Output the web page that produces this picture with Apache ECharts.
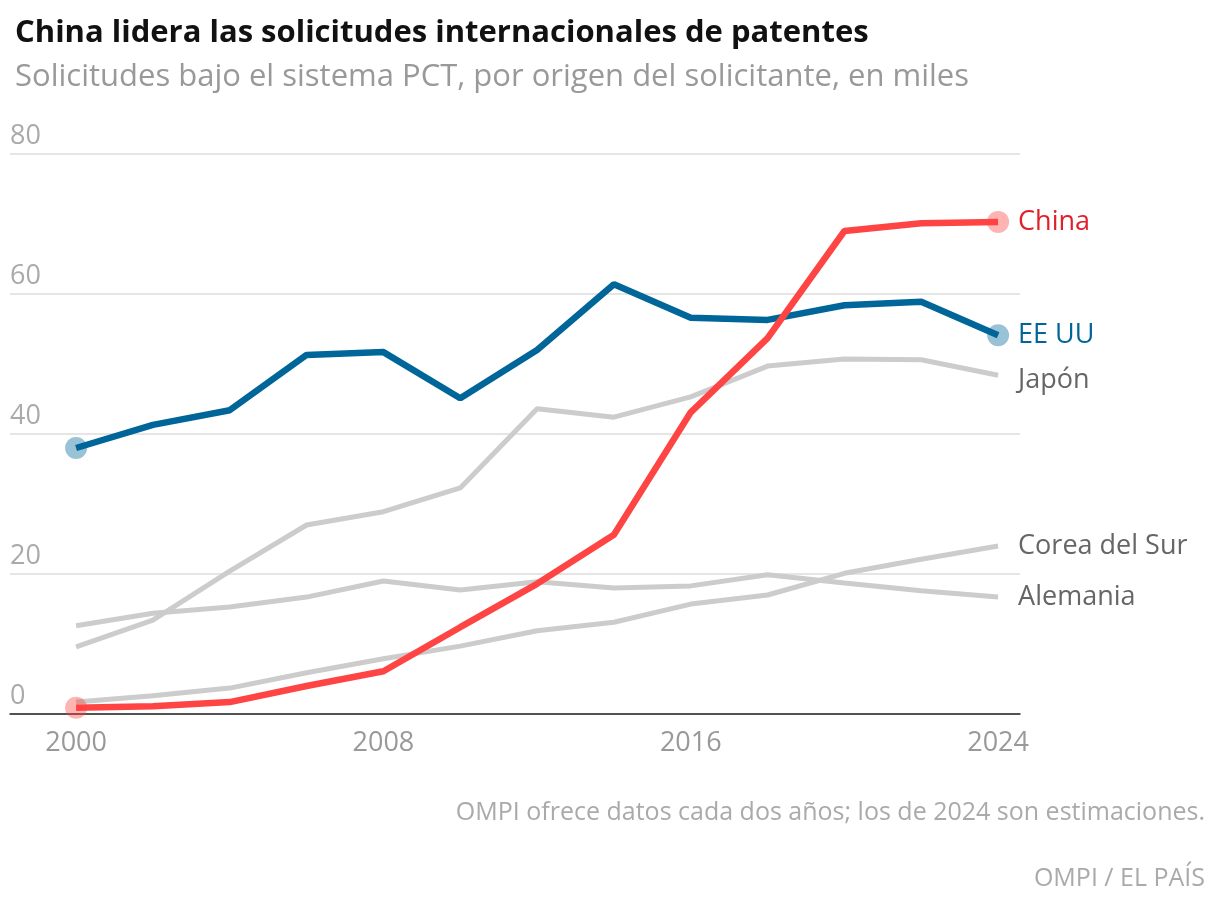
<!DOCTYPE html>
<html>
<head>
<meta charset="utf-8">
<script src="https://cdn.jsdelivr.net/npm/echarts@6/dist/echarts.min.js"></script>
<style>body{margin:0;background:#fff}#c{width:1220px;height:908px}</style>
</head>
<body>
<div id="c"></div>
<script>
// datos cada dos años
var years = [2000, 2002, 2004, 2006, 2008, 2010, 2012, 2014, 2016, 2018, 2020, 2022, 2024];
var china = [0.9, 1.1, 1.7, 4, 6.1, 12.4, 18.6, 25.6, 43.1, 53.7, 69, 70.1, 70.3];
var eeuu = [38, 41.3, 43.4, 51.3, 51.7, 45.1, 52, 61.4, 56.6, 56.3, 58.4, 58.9, 54.1];
var japon = [9.6, 13.4, 20.4, 27, 28.9, 32.3, 43.6, 42.4, 45.3, 49.7, 50.7, 50.6, 48.4];
var alemania = [12.6, 14.4, 15.3, 16.7, 19, 17.7, 18.9, 18, 18.3, 19.9, 18.7, 17.6, 16.7];
var corea = [1.7, 2.6, 3.7, 5.9, 7.9, 9.7, 11.9, 13.1, 15.7, 17, 20.1, 22.1, 24];
var xTicks = [2000, 2008, 2016, 2024];

var font = '"Open Sans", Roboto, sans-serif';
var ec = echarts.init(document.getElementById('c'));

function pts(vals) {
  return vals.map(function(v, i) { return [years[i], v]; });
}

function line(name, vals, color, labelColor, width, z, dots, dotColor, offY) {
  var d = pts(vals);
  var s = [{
    name: name,
    type: 'line',
    data: d,
    z: z,
    symbol: 'none',
    lineStyle: { color: color, width: width },
    endLabel: {
      show: true,
      formatter: name,
      color: labelColor,
      fontSize: 27,
      fontFamily: font,
      distance: 20,
      offset: [0, offY || 0]
    },
    silent: true
  }];
  if (dots) {
    s.push({
      type: 'scatter',
      data: [d[0], d[d.length - 1]],
      symbolSize: 22,
      z: z + 1,
      itemStyle: { color: dotColor },
      silent: true
    });
  }
  return s;
}

var series = [].concat(
  line('Corea del Sur', corea, '#cccccc', '#666', 5, 2, false),
  line('Alemania', alemania, '#cccccc', '#666', 5, 2, false),
  line('Japón', japon, '#cccccc', '#666', 5, 2, false, null, 5),
  line('EE UU', eeuu, '#006699', '#006699', 6.5, 5, true, 'rgba(0,102,153,0.5)'),
  line('China', china, '#ff4444', '#e0202a', 6.5, 6, true, 'rgba(255,68,68,0.5)')
);

ec.setOption({
  animation: false,
  title: [
    { text: 'China lidera las solicitudes internacionales de patentes', left: 10, top: 13,
      textStyle: { fontSize: 31, fontWeight: 'bold', color: '#111', fontFamily: font } },
    { text: 'Solicitudes bajo el sistema PCT, por origen del solicitante, en miles', left: 10, top: 57,
      textStyle: { fontSize: 31, fontWeight: 'normal', color: '#999', fontFamily: font } },
    { text: 'OMPI ofrece datos cada dos años; los de 2024 son estimaciones.', right: 10, top: 795,
      textStyle: { fontSize: 25, fontWeight: 'normal', color: '#aaa', fontFamily: font } },
    { text: 'OMPI / EL PAÍS', right: 10, top: 861,
      textStyle: { fontSize: 25, fontWeight: 'normal', color: '#aaa', fontFamily: font } }
  ],
  grid: { left: 10, right: 200, top: 154, bottom: 194 },
  xAxis: {
    type: 'value',
    min: 1998.28,
    max: 2024.57,
    splitLine: { show: false },
    axisLine: { show: true, lineStyle: { color: '#222', width: 1.5 } },
    axisTick: { show: false },
    axisLabel: { customValues: xTicks, color: '#999', fontSize: 27, fontFamily: font, margin: 16,
      formatter: function(v) { return String(v); } }
  },
  yAxis: {
    type: 'value',
    min: 0, max: 80, interval: 20,
    axisLine: { show: false },
    axisTick: { show: false },
    splitLine: { lineStyle: { color: '#ddd', width: 1.5 } },
    axisLabel: { inside: true, verticalAlign: 'bottom', margin: 0, color: '#aaa', fontSize: 27,
      fontFamily: font, padding: [0, 0, 4, 0], showMinLabel: true }
  },
  series: series
});
</script>
</body>
</html>
